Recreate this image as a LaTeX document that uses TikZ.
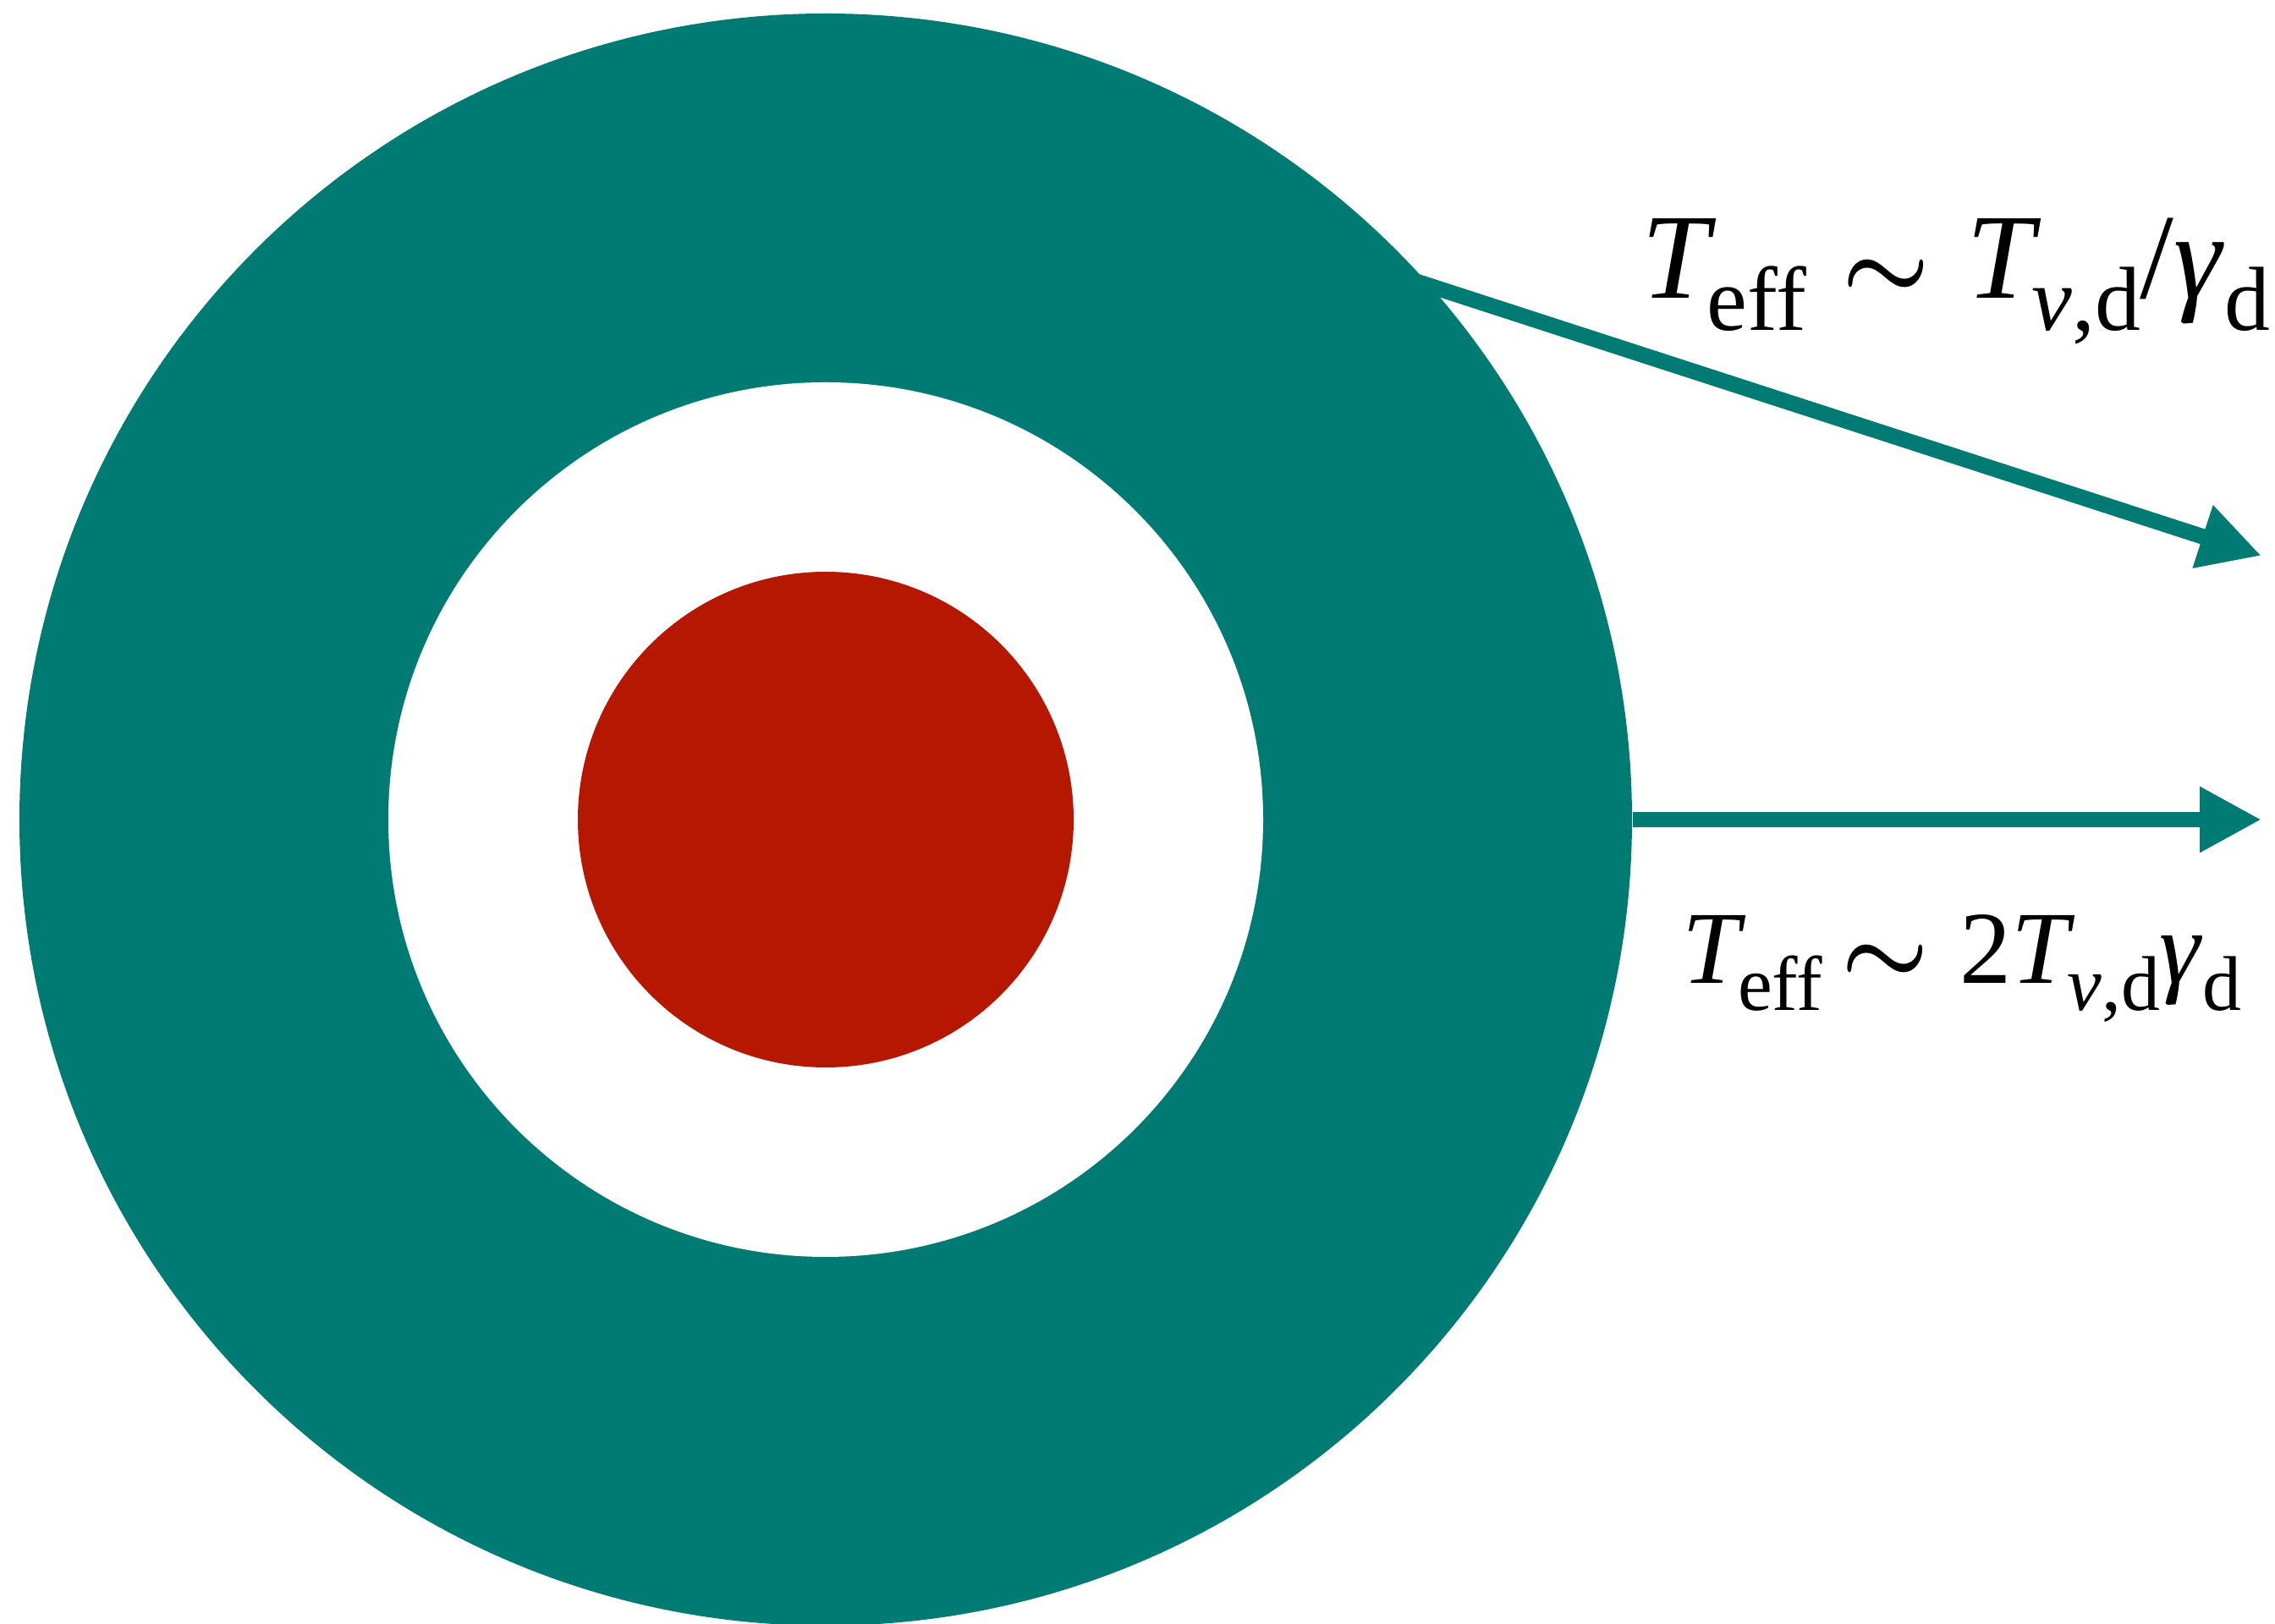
\documentclass[tikz,border=0pt]{standalone}
\usepackage{fontspec}
\setmainfont{Liberation Serif}
\usepackage{tikz}
\usetikzlibrary{arrows.meta, positioning, calc}
\definecolor{diskteal}{HTML}{007B74}
\definecolor{corered}{HTML}{B51700}
\newcommand{\lowsub}[1]{\raisebox{-0.26em}{\scalebox{0.75}{#1}}}
\newcommand{\Tsub}[1]{\textit{T}\kern-0.08em\lowsub{#1}}
\newcommand{\simgap}[1]{\hspace{#1}{\normalsize\boldmath\scalebox{3.3}{$\sim$}}\hspace{0.3em}}

\begin{document}
\begin{tikzpicture}[
    disk/.style={circle, inner sep=0pt, draw=none},
    arrow/.style={-{Triangle[length=7.3mm, width=7.3mm]}, line width=1.85mm, draw=diskteal},
    label_big/.style={inner sep=0pt, anchor=base west, font=\fontsize{40.8pt}{48pt}\selectfont},
    label_small/.style={inner sep=0pt, anchor=base west, font=\fontsize{34.8pt}{42pt}\selectfont}
]
\useasboundingbox (0,0) rectangle (26.89,19.2);

\node[disk, fill=diskteal, minimum size=19.06cm] (outer) at (9.76,9.51) {};
\node[disk, fill=white, minimum size=10.34cm] (gap) at (outer.center) {};
\node[disk, fill=corered, minimum size=5.86cm] (core) at (outer.center) {};

\coordinate (start_up) at ($(outer.center)+(42.3:9.45)$);
\coordinate (tip_up) at (26.73,12.63);
\coordinate (tip_side) at (26.73,9.51);

\draw[arrow] (start_up) -- (tip_up);
\draw[arrow] (outer.east) -- (tip_side);

\node[label_big] (lab_up) at (19.40,15.67)
    {\Tsub{eff}\simgap{0.3em}\Tsub{\textit{ν},d}/\textit{γ}\lowsub{d}};
\node[label_small] (lab_side) at (19.88,7.57)
    {\Tsub{eff}\simgap{0.18em}2\Tsub{\textit{ν},d}\textit{γ}\lowsub{d}};

\end{tikzpicture}
\end{document}
